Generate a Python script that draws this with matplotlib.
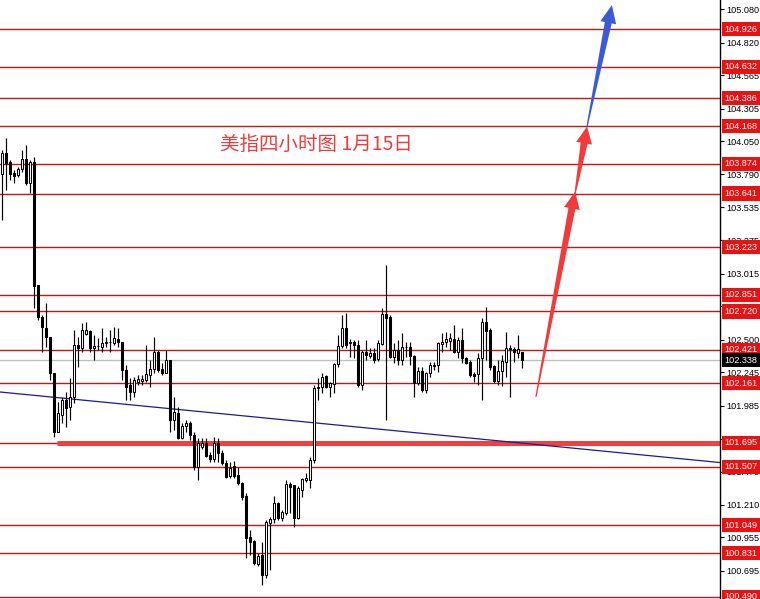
import numpy as np
import matplotlib
matplotlib.use("Agg")
import matplotlib.pyplot as plt
from matplotlib.patches import Polygon
from matplotlib.transforms import IdentityTransform, blended_transform_factory

# ---------------- data ----------------
opens = [103.794,103.958,103.887,103.801,103.786,103.833,103.911,103.723,103.887,102.927,
102.677,102.591,102.521,102.239,101.779,101.911,102.029,101.974,102.052,102.458,
102.435,102.544,102.567,102.435,102.450,102.442,102.474,102.481,102.474,102.505,
102.481,102.263,102.146,102.091,102.169,102.177,102.185,102.224,102.271,102.403,
102.271,102.239,102.341,101.872,101.927,101.732,101.825,101.849,101.755,101.505,
101.661,101.693,101.599,101.568,101.693,101.615,101.536,101.435,101.513,101.443,
101.380,101.279,100.958,100.927,100.748,100.818,100.662,101.068,101.099,101.224,
101.107,101.146,101.372,101.364,101.107,101.326,101.404,101.404,101.560,102.122,
102.130,102.216,102.130,102.153,102.310,102.450,102.591,102.481,102.481,102.458,
102.146,102.403,102.372,102.396,102.349,102.466,102.700,102.677,102.364,102.419,
102.341,102.442,102.442,102.372,102.161,102.255,102.106,102.239,102.294,102.302,
102.466,102.481,102.489,102.505,102.403,102.497,102.356,102.325,102.232,102.232,
102.356,102.638,102.575,102.294,102.177,102.255,102.325,102.427,102.427,102.396,
102.403]
highs = [103.981,104.075,103.903,103.825,103.848,103.981,104.020,103.903,103.926,102.927,
102.692,102.786,102.521,102.239,102.013,102.052,102.091,102.200,102.575,102.521,
102.630,102.638,102.575,102.536,102.513,102.591,102.521,102.575,102.599,102.591,
102.481,102.302,102.200,102.208,102.224,102.224,102.458,102.341,102.521,102.419,
102.318,102.419,102.341,102.052,101.974,101.849,101.872,101.864,101.779,101.732,
101.732,101.732,101.622,101.740,101.732,101.638,101.560,101.544,101.552,101.505,
101.388,101.302,101.013,100.935,100.834,100.920,101.091,101.115,101.279,101.232,
101.169,101.404,101.388,101.364,101.357,101.419,101.458,101.583,102.146,102.200,
102.239,102.224,102.169,102.318,102.536,102.692,102.708,102.505,102.497,102.497,
102.419,102.497,102.435,102.435,102.497,102.747,103.083,102.692,102.474,102.497,
102.552,102.481,102.481,102.380,102.286,102.286,102.247,102.325,102.325,102.481,
102.552,102.560,102.552,102.614,102.521,102.591,102.364,102.341,102.247,102.396,
102.669,102.755,102.591,102.302,102.341,102.380,102.560,102.458,102.442,102.536,
102.403]
lows = [103.434,103.669,103.747,103.723,103.770,103.809,103.708,103.645,102.747,102.653,
102.403,102.442,102.185,101.740,101.779,101.849,101.818,101.872,102.005,102.286,
102.403,102.536,102.403,102.341,102.419,102.403,102.442,102.403,102.458,102.442,
102.185,102.029,102.029,102.052,102.146,102.146,102.169,102.130,102.239,102.247,
102.224,102.239,101.779,101.794,101.725,101.725,101.779,101.716,101.482,101.404,
101.646,101.583,101.544,101.544,101.544,101.521,101.419,101.419,101.419,101.365,
101.247,100.795,100.818,100.740,100.732,100.584,100.638,100.701,101.068,101.091,
101.083,101.130,101.146,101.037,101.099,101.271,101.388,101.341,101.536,102.029,
102.083,102.122,102.052,102.083,102.286,102.435,102.435,102.364,102.356,102.130,
102.106,102.341,102.356,102.318,102.333,102.458,101.872,102.356,102.318,102.302,
102.302,102.364,102.302,102.052,102.146,102.091,102.083,102.208,102.263,102.247,
102.403,102.442,102.419,102.395,102.356,102.318,102.310,102.208,102.169,102.146,
102.029,102.341,102.263,102.161,102.146,102.138,102.208,102.052,102.325,102.356,
102.278]
closes = [103.958,103.879,103.794,103.778,103.833,103.911,103.723,103.887,102.919,102.677,
102.599,102.521,102.239,101.779,101.927,102.029,101.966,102.052,102.458,102.435,
102.575,102.575,102.435,102.450,102.452,102.474,102.481,102.483,102.513,102.481,
102.263,102.130,102.091,102.185,102.192,102.192,102.232,102.271,102.403,102.263,
102.239,102.341,101.872,101.935,101.732,101.825,101.849,101.755,101.505,101.693,
101.693,101.591,101.568,101.693,101.615,101.536,101.427,101.497,101.435,101.380,
101.271,100.951,100.920,100.755,100.810,100.662,101.076,101.099,101.224,101.107,
101.154,101.372,101.349,101.107,101.341,101.411,101.419,101.560,102.122,102.130,
102.208,102.130,102.161,102.310,102.450,102.591,102.458,102.474,102.458,102.146,
102.403,102.380,102.396,102.341,102.474,102.700,102.669,102.364,102.419,102.341,
102.442,102.445,102.372,102.161,102.255,102.106,102.239,102.302,102.302,102.474,
102.481,102.505,102.513,102.403,102.497,102.356,102.318,102.224,102.216,102.356,
102.638,102.567,102.286,102.177,102.255,102.333,102.435,102.435,102.403,102.427,
102.338]

level_lines = [104.926, 104.632, 104.386, 104.168, 103.874, 103.641, 103.223,
               102.851, 102.720, 102.421, 102.161, 101.695, 101.507, 101.049,
               100.831, 100.490]
current_price = 102.338
support_level = 101.695
support_start = 13.7
axis_ticks = [105.080, 104.820, 104.565, 104.305, 104.050, 103.790, 103.535,
              103.275, 103.015, 102.760, 102.500, 102.245, 101.985, 101.725,
              101.470, 101.210, 100.955, 100.695]
trend_x = [-0.575, 179.425]
trend_y = [102.091, 101.540]
# arrows: (tail_x, tail_y, tip_x, tip_y)
red_arrows = [(133.4, 102.052, 143.2, 103.655), (143.2, 103.641, 146.2, 104.165)]
blue_arrow = (146.2, 104.168, 152.4, 105.113)
title_text = "美指四小时图 1月15日"

# ---------------- figure ----------------
W, H = 760, 599
fig = plt.figure(figsize=(W / 100, H / 100), dpi=100)
ax_right = 720
ax = fig.add_axes([0, 0, ax_right / W, 1])
ax.set_xlim(-0.575, 179.425)
ymax = 105.1525
ymin = ymax - H / 128.04
ax.set_ylim(ymin, ymax)

for s in ["top", "left", "bottom"]:
    ax.spines[s].set_visible(False)
ax.spines["right"].set_color("black")
ax.spines["right"].set_linewidth(1.0)
ax.set_xticks([])
ax.yaxis.tick_right()
ax.set_yticks(axis_ticks)
ax.set_yticklabels([f"{t:.3f}" for t in axis_ticks])
ax.tick_params(axis="y", direction="out", length=3, width=0.8, pad=1.5,
               labelsize=6.6, colors="black")
for lab in ax.get_yticklabels():
    lab.set_fontfamily("Liberation Sans")

# horizontal levels
for lv in level_lines:
    ax.axhline(lv, color="#c81414", lw=1.0, zorder=1)
ax.axhline(current_price, color="#c0c0c0", lw=1.0, zorder=1)
ax.plot([support_start, 179.425], [support_level, support_level],
        color="#f04040", lw=3.6, solid_capstyle="butt", zorder=2)

# trend line
ax.plot(trend_x, trend_y, color="#1a1a9a", lw=0.9, zorder=2)

# candles
x = np.arange(len(opens))
o = np.array(opens); c = np.array(closes); h = np.array(highs); l = np.array(lows)
ax.vlines(x, l, h, color="black", lw=0.85, zorder=3)
up = c >= o
bw = 0.5
bottoms = np.minimum(o, c)
heights = np.abs(c - o)
ax.bar(x[up], heights[up], bottom=bottoms[up], width=bw, facecolor="white",
       edgecolor="black", lw=0.75, zorder=4)
ax.bar(x[~up], heights[~up], bottom=bottoms[~up], width=bw, facecolor="black",
       edgecolor="black", lw=0.75, zorder=4)

# tapered arrows
def tapered_arrow(tail_x, tail_y, tip_x, tip_y, color, head_len=17, head_hw=8.0,
                  shaft_hw=3.5, tail_hw=0.6):
    T = ax.transData.transform((tail_x, tail_y))
    P = ax.transData.transform((tip_x, tip_y))
    d = P - T
    u = d / np.hypot(*d)
    n = np.array([-u[1], u[0]])
    B = P - u * head_len
    pts = [T + n * tail_hw, B + n * shaft_hw, B + n * head_hw, P,
           B - n * head_hw, B - n * shaft_hw, T - n * tail_hw]
    poly = Polygon(pts, closed=True, facecolor=color, edgecolor="none",
                   transform=IdentityTransform(), zorder=6)
    fig.patches.append(poly)
    poly.set_figure(fig)

for a in red_arrows:
    tapered_arrow(*a, color="#f23a3a")
tapered_arrow(*blue_arrow, color="#3a5ad8", head_len=18)

# title
ax.text(220 / ax_right, 1 - 144 / H, title_text, transform=ax.transAxes,
        color="#ee3c3c", fontsize=14, va="center", ha="left",
        family=["Noto Sans CJK SC", "DejaVu Sans"], zorder=7)

# price boxes on axis
trans = blended_transform_factory(fig.transFigure, ax.transData)
def price_box(val, fc):
    ax.text(741 / W, val, f"{val:.3f}", transform=trans, ha="center", va="center",
            fontsize=6.6, family="Liberation Sans", color="white", clip_on=False,
            bbox=dict(boxstyle="square,pad=0.28", fc=fc, ec="none"), zorder=10)

for lv in level_lines:
    price_box(lv, "#e81212")
price_box(current_price, "black")

fig.savefig("out.png", dpi=100)
